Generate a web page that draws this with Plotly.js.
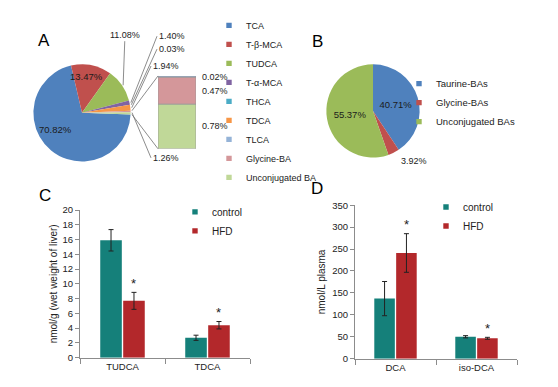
<!DOCTYPE html>
<html><head><meta charset="utf-8">
<script src="https://cdn.plot.ly/plotly-3.0.1.min.js"></script>
<style>
html,body{margin:0;padding:0;background:#fff}
#chart{width:558px;height:387px}
/* Excel-like small legend swatches placed close to the text */
#chart .legendpoints path{transform-box:fill-box;transform-origin:center;translate:14px 0;scale:0.45}
</style>
</head><body><div id="chart"></div>
<script>
// ---------- DATA ----------
// Panel A: composition of liver bile acids (%)
const aLabels = ['TCA','T-β-MCA','TUDCA','T-α-MCA','THCA','TDCA','TLCA','Glycine-BA','Unconjugated BA'];
const aValues = [70.82, 13.47, 11.08, 1.40, 0.03, 1.94, 0.02, 0.47, 0.78];
const aOtherLabel = '1.26%';           // label printed on the combined "other" slice
// Panel B: conjugation classes (%)
const bLabels = ['Taurine-BAs','Glycine-BAs','Unconjugated BAs'];
const bValues = [40.71, 3.92, 55.37];
// Panel C: liver, nmol/g
const cCats = ['TUDCA','TDCA'];
const cControl = [15.9, 2.7];
const cControlErr = [1.45, 0.35];
const cHFD = [7.7, 4.4];
const cHFDErr = [1.15, 0.5];
const cSig = ['*','*'];
// Panel D: plasma, nmol/L
const dCats = ['DCA','iso-DCA'];
const dControl = [137, 50];
const dControlErr = [39, 2.5];
const dHFD = [241, 46.5];
const dHFDErr = [44, 2.2];
const dSig = ['*','*'];

// ---------- STYLE / GEOMETRY ----------
const W = 558, H = 387;
const PX = x => x / W, PY = y => 1 - y / H;
const FONT = 'Liberation Sans, Arial, sans-serif';
const aColors = ['#4F81BD','#C0504D','#9BBB59','#8064A2','#4BACC6','#F79646','#95B3D7','#D4979A','#C0D898'];
const bColors = ['#4F81BD','#C0504D','#9BBB59'];
const CTL = '#15807A', HFD = '#B3282B';
const LINE = '#6e6e6e';

const PA = {cx: 82, cy: 110, r: 50, rot: 92};
const PB = {cx: 373, cy: 108, r: 48};
const BARA = {x0: 158, x1: 196, y0: 72, y1: 147};
const nPie = 6; // slices 0..5 shown separately; 6..8 expanded in the bar
const C = {x0: 80, x1: 250, y0: 210, y1: 362};
const D = {x0: 355, x1: 517, y0: 205, y1: 363};
const BARGAP = 0.46, GROUPGAP = 0.06;

// ---------- derived from data ----------
const aTotal = aValues.reduce((s, v) => s + v, 0);
const aCum = []; { let acc = 0; aValues.forEach(v => { aCum.push(acc); acc += v; }); }
const angA = frac => (PA.rot + 360 * frac) * Math.PI / 180;
const ptA = (a, rr) => [PA.cx + rr * Math.sin(a), PA.cy - rr * Math.cos(a)];
const midA = i => angA((aCum[i] + aValues[i] / 2) / aTotal);
const otherStart = angA(aCum[nPie] / aTotal), otherEnd = angA(1);
const otherMid = (otherStart + otherEnd) / 2;

const barIdx = []; for (let i = aValues.length - 1; i >= nPie; i--) barIdx.push(i); // bottom -> top
const barBase = []; { let acc = 0; barIdx.forEach(i => { barBase.push(acc); acc += aValues[i]; }); }
const barTotal = barIdx.reduce((s, i) => s + aValues[i], 0);

const bTotal = bValues.reduce((s, v) => s + v, 0);

// ---------- TRACES ----------
const traces = [];
traces.push({
  type: 'pie', labels: aLabels, values: aValues, sort: false, direction: 'clockwise', rotation: PA.rot,
  domain: {x: [PX(PA.cx - PA.r), PX(PA.cx + PA.r)], y: [PY(PA.cy + PA.r), PY(PA.cy - PA.r)]},
  marker: {colors: aColors, line: {width: 0}},
  textposition: 'none',
  legend: 'legend', hoverinfo: 'label+value'
});
traces.push({
  type: 'bar', x: barIdx.map(() => 'other'), y: barIdx.map(i => aValues[i]), base: barBase,
  width: 1, xaxis: 'x3', yaxis: 'y3', showlegend: false,
  marker: {color: barIdx.map(i => aColors[i]), line: {color: '#9a9a9a', width: 0.8}},
  hovertext: barIdx.map(i => aLabels[i]), hoverinfo: 'text+y'
});
traces.push({
  type: 'pie', labels: bLabels, values: bValues, sort: false, direction: 'clockwise', rotation: 0,
  domain: {x: [PX(PB.cx - PB.r), PX(PB.cx + PB.r)], y: [PY(PB.cy + PB.r), PY(PB.cy - PB.r)]},
  marker: {colors: bColors, line: {width: 0}},
  texttemplate: '%{value:.2f}%',
  textposition: ['inside', 'none', 'inside'],
  insidetextorientation: 'horizontal',
  textfont: {family: FONT, size: 9.5, color: '#1b1b1b'},
  legend: 'legend2', hoverinfo: 'label+value'
});
const errStyle = arr => ({type: 'data', array: arr, visible: true, color: '#222', thickness: 1, width: 2.5});
traces.push({type: 'bar', name: 'control', x: cCats, y: cControl, error_y: errStyle(cControlErr),
  marker: {color: CTL}, xaxis: 'x', yaxis: 'y', legend: 'legend3'});
traces.push({type: 'bar', name: 'HFD', x: cCats, y: cHFD, error_y: errStyle(cHFDErr),
  marker: {color: HFD}, xaxis: 'x', yaxis: 'y', legend: 'legend3'});
traces.push({type: 'bar', name: 'control', x: dCats, y: dControl, error_y: errStyle(dControlErr),
  marker: {color: CTL}, xaxis: 'x2', yaxis: 'y2', legend: 'legend4'});
traces.push({type: 'bar', name: 'HFD', x: dCats, y: dHFD, error_y: errStyle(dHFDErr),
  marker: {color: HFD}, xaxis: 'x2', yaxis: 'y2', legend: 'legend4'});

// ---------- ANNOTATIONS ----------
const ann = [];
const letter = (t, x, y) => ann.push({text: t, x: PX(x), y: PY(y), xref: 'paper', yref: 'paper',
  showarrow: false, font: {family: FONT, size: 17, color: '#000'}, xanchor: 'center', yanchor: 'middle'});
letter('A', 44, 36); letter('B', 317, 37); letter('C', 45, 195); letter('D', 317, 188);

const pctFont = {family: FONT, size: 9, color: '#222'};
// inside labels of the two large slices of pie A (label centres in px)
const inLabel = (i, x, y) => ann.push({text: aValues[i].toFixed(2) + '%', x: PX(x), y: PY(y), xref: 'paper', yref: 'paper',
  showarrow: false, xanchor: 'center', yanchor: 'middle', font: {family: FONT, size: 9.5, color: '#1b1b1b'}});
inLabel(0, 55, 127);
inLabel(1, 86, 73);
// leader-line labels of the small slices in pie A (label positions in px)
const leader = (pt, text, lx, ly, anchor) => ann.push({
  text: text, x: PX(pt[0]), y: PY(pt[1]), xref: 'paper', yref: 'paper',
  showarrow: true, arrowhead: 0, arrowwidth: 0.8, arrowcolor: LINE,
  ax: lx - pt[0], ay: ly - pt[1], xanchor: anchor, yanchor: 'middle', font: pctFont
});
leader(ptA(midA(2), PA.r), aValues[2].toFixed(2) + '%', 125, 31, 'center');
leader(ptA(midA(3), PA.r), aValues[3].toFixed(2) + '%', 157, 33, 'left');
leader(ptA(midA(4), PA.r), aValues[4].toFixed(2) + '%', 157, 46, 'left');
leader(ptA(midA(5), PA.r), aValues[5].toFixed(2) + '%', 151, 63, 'left');
leader(ptA(otherMid, PA.r), aOtherLabel, 151, 155, 'left');
// labels beside the bar of pie
barIdx.forEach((i, k) => ann.push({
  text: aValues[i].toFixed(2) + '%', x: 1, xref: 'x3 domain', y: barBase[k] + aValues[i] / 2, yref: 'y3',
  xanchor: 'left', yanchor: 'middle', xshift: 4, showarrow: false, font: pctFont
}));
// pie B small slice label
{
  const a = ((bValues[0] + bValues[1] / 2) / bTotal) * 2 * Math.PI;
  const rr = PB.r * 1.2;
  ann.push({text: bValues[1].toFixed(2) + '%', x: PX(PB.cx + rr * Math.sin(a)), y: PY(PB.cy - rr * Math.cos(a)),
    xref: 'paper', yref: 'paper', xanchor: 'left', yanchor: 'middle', showarrow: false, font: pctFont});
}
// significance stars above HFD bars
const star = (cats, vals, errs, sig, xr, yr, catPx) => cats.forEach((c, i) => ann.push({
  text: sig[i], x: c, xref: xr, y: vals[i] + errs[i], yref: yr, showarrow: false,
  xshift: catPx * (1 - BARGAP) / 4, yshift: 9, yanchor: 'middle',
  font: {family: FONT, size: 13, color: '#222'}
}));
star(cCats, cHFD, cHFDErr, cSig, 'x', 'y', (C.x1 - C.x0) / cCats.length);
star(dCats, dHFD, dHFDErr, dSig, 'x2', 'y2', (D.x1 - D.x0) / dCats.length);

// ---------- SHAPES (bar-of-pie connectors) ----------
const p1 = ptA(otherStart, PA.r), p2 = ptA(otherEnd, PA.r);
const shapes = [
  {type: 'line', xref: 'paper', yref: 'paper', x0: PX(p1[0]), y0: PY(p1[1]), x1: PX(BARA.x0), y1: PY(BARA.y0), line: {color: LINE, width: 0.8}},
  {type: 'line', xref: 'paper', yref: 'paper', x0: PX(p2[0]), y0: PY(p2[1]), x1: PX(BARA.x0), y1: PY(BARA.y1), line: {color: LINE, width: 0.8}}
];

// ---------- LAYOUT ----------
const axCat = (dom, anchor) => ({domain: dom, anchor: anchor, type: 'category', showline: true, linecolor: '#8c8c8c', linewidth: 1,
  ticks: 'outside', tickson: 'boundaries', ticklen: 5, tickcolor: '#8c8c8c', showgrid: false, zeroline: false,
  tickfont: {family: FONT, size: 9.5, color: '#222'}, fixedrange: true});
const axVal = (dom, anchor, range, dtick, title, standoff) => ({domain: dom, anchor: anchor, range: range, dtick: dtick,
  showline: true, linecolor: '#8c8c8c', linewidth: 1, ticks: 'outside', ticklen: 4, tickcolor: '#8c8c8c',
  showgrid: false, zeroline: false, tickfont: {family: FONT, size: 9.5, color: '#222'},
  title: {text: title, font: {family: FONT, size: 10, color: '#222'}, standoff: standoff}, automargin: true, fixedrange: true});
const leg = (x, y, size) => ({x: PX(x), y: PY(y), xanchor: 'left', yanchor: 'top', bgcolor: 'rgba(0,0,0,0)',
  font: {family: FONT, size: size, color: '#222'}, itemwidth: 30, traceorder: 'normal'});

const layout = {
  width: W, height: H, margin: {l: 0, r: 0, t: 0, b: 0}, paper_bgcolor: '#fff', plot_bgcolor: 'rgba(0,0,0,0)',
  font: {family: FONT, size: 9.5, color: '#222'},
  barmode: 'group', bargap: BARGAP, bargroupgap: GROUPGAP,
  xaxis: axCat([PX(C.x0), PX(C.x1)], 'y'),
  yaxis: axVal([PY(C.y1), PY(C.y0)], 'x', [0, 20], 2, 'nmol/g (wet weight of liver)', 3),
  xaxis2: axCat([PX(D.x0), PX(D.x1)], 'y2'),
  yaxis2: axVal([PY(D.y1), PY(D.y0)], 'x2', [0, 350], 50, 'nmol/L plasma', 4),
  xaxis3: {domain: [PX(BARA.x0), PX(BARA.x1)], anchor: 'y3', type: 'category', range: [-0.5, 0.5], visible: false, fixedrange: true},
  yaxis3: {domain: [PY(BARA.y1), PY(BARA.y0)], anchor: 'x3', range: [0, barTotal], visible: false, fixedrange: true},
  legend: leg(206, 5, 9),
  legend2: leg(396, 65, 9.5),
  legend3: leg(172, 197, 10),
  legend4: leg(423, 192, 10),
  annotations: ann,
  shapes: shapes,
  showlegend: true
};

Plotly.newPlot('chart', traces, layout, {displayModeBar: false});
</script></body></html>
